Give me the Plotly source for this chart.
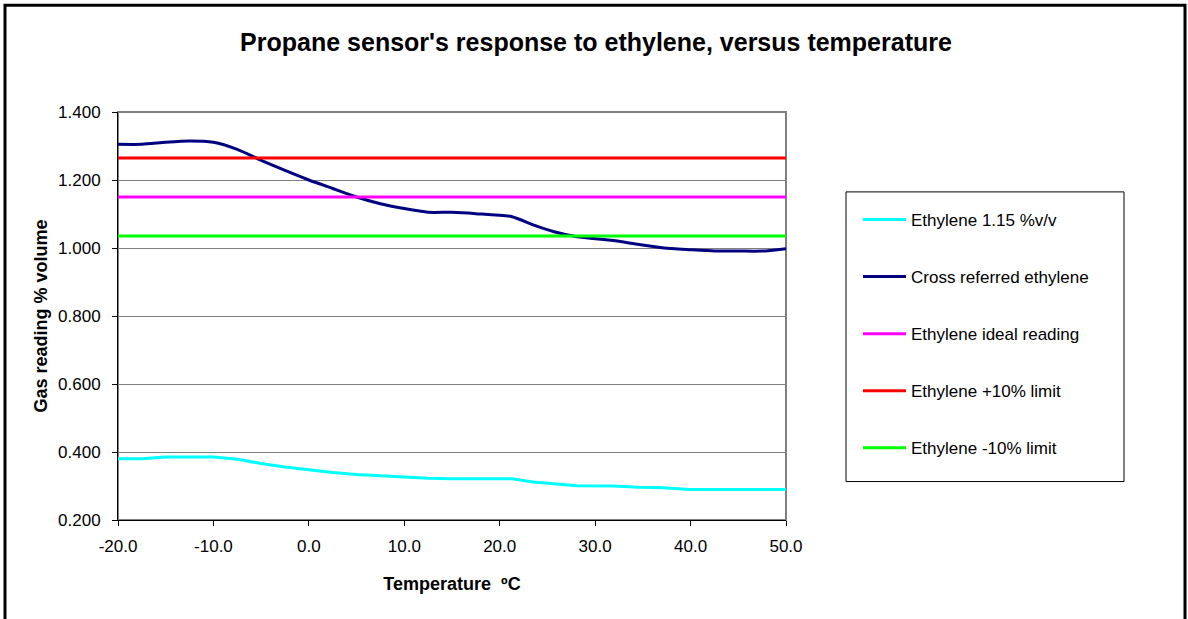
import plotly.graph_objects as go

# Data
temps = [-20, -17.5, -15, -12.5, -10, -7.5, -5, -2.5, 0, 2.5, 5, 7.5, 10, 12.5, 15, 17.5,
         21.3, 23.5, 25.7, 28.1, 31.9, 34.6, 37.2, 39.9, 42.5, 45, 47.5, 50]
ethylene_115 = [0.380, 0.380, 0.385, 0.385, 0.385, 0.379, 0.366, 0.356, 0.347, 0.340, 0.334,
                0.330, 0.326, 0.323, 0.321, 0.321, 0.321, 0.312, 0.306, 0.301, 0.300, 0.296,
                0.295, 0.290, 0.290, 0.290, 0.290, 0.290]
cross_referred = [1.305, 1.305, 1.311, 1.315, 1.311, 1.290, 1.258, 1.228, 1.200, 1.175, 1.150,
                  1.130, 1.116, 1.105, 1.105, 1.101, 1.092, 1.068, 1.048, 1.033, 1.022, 1.010,
                  1.000, 0.995, 0.991, 0.991, 0.991, 0.998]
ideal_value = 1.15
plus10_value = 1.265
minus10_value = 1.035
ideal = [ideal_value] * len(temps)
plus10 = [plus10_value] * len(temps)
minus10 = [minus10_value] * len(temps)

series_names = ["Ethylene 1.15 %v/v", "Cross referred ethylene", "Ethylene ideal reading",
                "Ethylene +10% limit", "Ethylene -10% limit"]
series_values = [ethylene_115, cross_referred, ideal, plus10, minus10]
series_colors = ["#00FFFF", "#000080", "#FF00FF", "#FF0000", "#00FF00"]
series_shapes = ["linear", "spline", "linear", "linear", "linear"]

x_ticks = [-20, -10, 0, 10, 20, 30, 40, 50]
x_tick_labels = ["-20.0", "-10.0", "0.0", "10.0", "20.0", "30.0", "40.0", "50.0"]
y_ticks = [0.2, 0.4, 0.6, 0.8, 1.0, 1.2, 1.4]
y_tick_labels = ["0.200", "0.400", "0.600", "0.800", "1.000", "1.200", "1.400"]

W, H = 1188, 619
L, R, T, B = 118, 786, 112, 520.5

def px(x):  # screen x -> paper
    return (x - L) / (R - L)

def py(y):  # screen y -> paper
    return (B - y) / (B - T)

FONT = "Liberation Sans, Arial, sans-serif"

fig = go.Figure()
for name, vals, col, shp in zip(series_names, series_values, series_colors, series_shapes):
    fig.add_trace(go.Scatter(
        x=temps, y=vals, mode="lines", name=name, legendgroup=name,
        line=dict(color=col, width=3, shape=shp, smoothing=0.6 if shp == "spline" else None),
        cliponaxis=False,
    ))

fig.update_layout(
    width=W, height=H,
    margin=dict(l=L, r=W - R, t=T, b=H - B, pad=0),
    paper_bgcolor="white", plot_bgcolor="white",
    font=dict(family=FONT, size=17, color="black"),
    title=dict(text="<b>Propane sensor's response to ethylene, versus temperature</b>",
               x=px(596), xanchor="center", xref="paper",
               y=1 - 42 / H, yanchor="middle", yref="container",
               font=dict(size=25, family=FONT, color="black")),
    showlegend=True,
    legend=dict(x=px(858), xanchor="left", y=py(202), yanchor="top",
                bgcolor="rgba(0,0,0,0)", borderwidth=0, traceorder="grouped",
                tracegroupgap=32, font=dict(size=17, family=FONT), itemwidth=43),
    xaxis=dict(range=[-20, 50], tickvals=x_ticks, ticktext=x_tick_labels, showgrid=False,
               zeroline=False, showline=True, linecolor="black", linewidth=1,
               ticks="outside", ticklen=5, tickcolor="black", ticklabelstandoff=6,
               tickfont=dict(size=17),
               title=dict(text="<b>Temperature  ºC</b>", standoff=21,
                          font=dict(size=18, family=FONT))),
    yaxis=dict(range=[0.2, 1.4], tickvals=y_ticks, ticktext=y_tick_labels, showgrid=True,
               gridcolor="#808080", gridwidth=1, zeroline=False, showline=True,
               linecolor="black", linewidth=1, ticks="outside", ticklen=5, tickcolor="black",
               ticklabelstandoff=8, tickfont=dict(size=17),
               title=dict(text="<b>Gas reading % volume</b>", standoff=5,
                          font=dict(size=18, family=FONT))),
)

# plot-area border (gray top/right), legend box, outer chart border
fig.add_shape(type="rect", xref="paper", yref="paper", x0=0, x1=1, y0=0, y1=1,
              line=dict(color="#808080", width=2), layer="below")
fig.add_shape(type="rect", xref="paper", yref="paper", x0=px(846), x1=px(1124),
              y0=py(482), y1=py(192), line=dict(color="black", width=1), layer="below")
fig.add_shape(type="rect", xref="paper", yref="paper", x0=px(5), x1=px(1185),
              y0=py(640), y1=py(5), line=dict(color="black", width=3), layer="below")

fig.write_html("out.html", config={"displayModeBar": False},
               post_script="document.body.style.margin='0px';")
